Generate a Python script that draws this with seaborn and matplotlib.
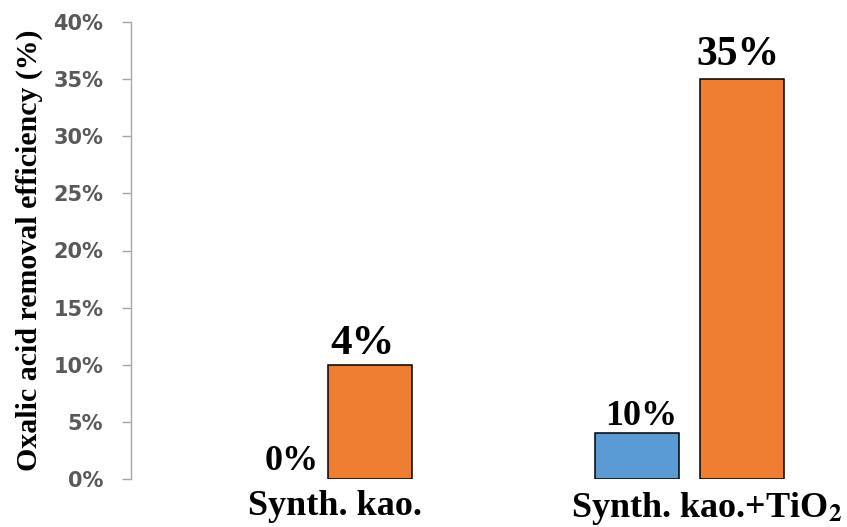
import matplotlib
matplotlib.use("Agg")
import matplotlib.pyplot as plt
import matplotlib.transforms as mtransforms
from matplotlib.ticker import FuncFormatter
import pandas as pd
import seaborn as sns

# ---- data -------------------------------------------------------------
categories = ["Synth. kao.", r"Synth. kao.+TiO$_\mathbf{2}$"]
series_names = ["Series 1", "Series 2"]
series1_values = [0, 4]      # % removal
series2_values = [10, 35]    # % removal
series1_notes = ["0%", "10%"]
series2_notes = ["4%", "35%"]
y_ticks = [0, 5, 10, 15, 20, 25, 30, 35, 40]

# ---- styling -----------------------------------------------------------
sns.set_theme(style="white")
plt.rcParams["font.family"] = ["DejaVu Sans"]
plt.rcParams["mathtext.fontset"] = "stix"

colors = ["#5B9BD5", "#ED7D31"]
serif = "Liberation Serif"

df = pd.DataFrame({
    "category": categories * 2,
    "series": [series_names[0]] * len(categories) + [series_names[1]] * len(categories),
    "value": series1_values + series2_values,
})

fig = plt.figure(figsize=(8.47, 5.27), dpi=100)
ax = fig.add_axes([131 / 847, 48 / 527, 1 - 131 / 847, 457 / 527])

sns.barplot(data=df, x="category", y="value", hue="series", order=categories,
            hue_order=series_names, palette=colors, saturation=1, width=0.565,
            gap=0.2, edgecolor="black", linewidth=1.1, legend=False, ax=ax)

# empty bars get no outline
for bar in ax.patches:
    if bar.get_height() == 0:
        bar.set_linewidth(0)

ax.set_ylim(0, 40)
ax.set_xlim(-0.503, 1.424)
ax.set_yticks(y_ticks)
ax.yaxis.set_major_formatter(FuncFormatter(lambda v, _: f"{v:.0f}%"))

for side in ("top", "right", "bottom"):
    ax.spines[side].set_visible(False)
ax.spines["left"].set_color("#A6A6A6")
ax.spines["left"].set_linewidth(1.0)
ax.tick_params(axis="y", which="major", direction="out", length=6.5, width=1.0,
               color="#A6A6A6", left=True, pad=13.5)
ax.tick_params(axis="x", length=0, pad=8)
for lab in ax.get_yticklabels():
    lab.set_fontweight("bold")
    lab.set_fontsize(15)
    lab.set_color("#595959")

ax.set_xlabel("")
ax.set_ylabel("Oxalic acid removal efficiency (%)", family=serif, fontweight="bold",
              fontsize=21.5, color="black", labelpad=7)

shift = mtransforms.ScaledTranslation(17 / 100, 0, fig.dpi_scale_trans)
for lab in ax.get_xticklabels():
    lab.set_family(serif)
    lab.set_fontweight("bold")
    lab.set_fontsize(26)
    lab.set_color("black")
    lab.set_transform(lab.get_transform() + shift)

# value annotations above each bar
notes = [series1_notes, series2_notes]
note_sizes = [[26, 26], [31, 30]]
note_offsets = [[(19, 6.5), (3, 6)], [(-5.4, 8), (-3, 10)]]
for s, container in enumerate(ax.containers):
    for i, bar in enumerate(container):
        cx = bar.get_x() + bar.get_width() / 2
        top = bar.get_height()
        ax.annotate(notes[s][i], xy=(cx, top), xytext=note_offsets[s][i],
                    textcoords="offset points", ha="center", va="baseline",
                    family=serif, fontweight="bold", fontsize=note_sizes[s][i],
                    color="black")

fig.savefig("out.png", dpi=100, facecolor="white")
